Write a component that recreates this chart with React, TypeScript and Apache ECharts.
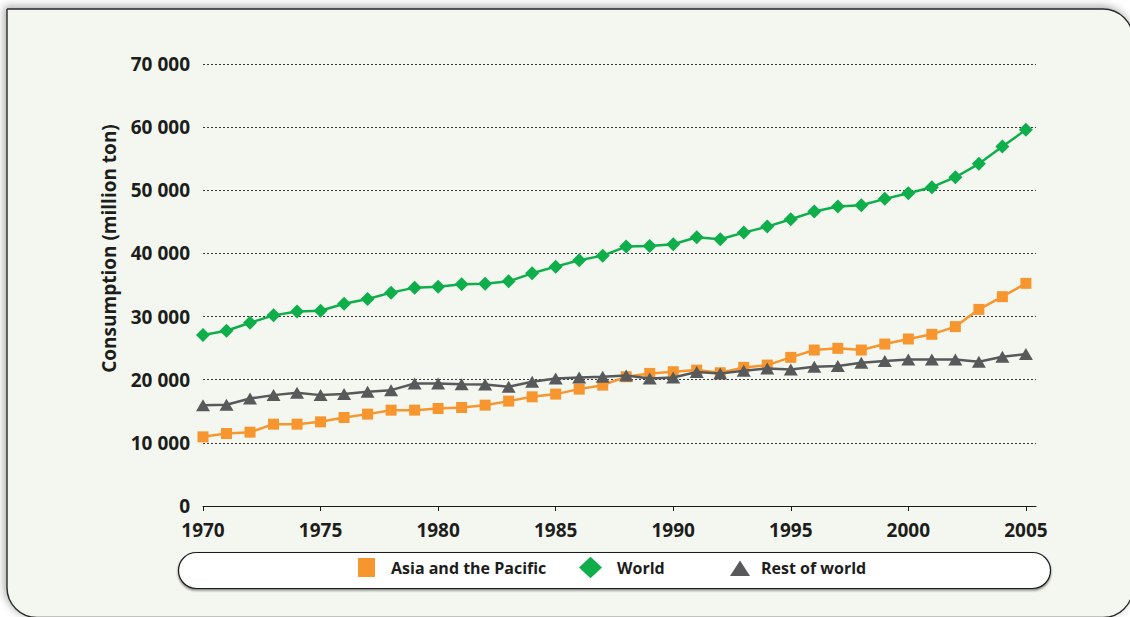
import React, { useEffect, useRef } from "react";
import * as echarts from "echarts";

const years = [
  1970, 1971, 1972, 1973, 1974, 1975, 1976, 1977, 1978, 1979,
  1980, 1981, 1982, 1983, 1984, 1985, 1986, 1987, 1988, 1989,
  1990, 1991, 1992, 1993, 1994, 1995, 1996, 1997, 1998, 1999,
  2000, 2001, 2002, 2003, 2004, 2005,
];
const asiaPacific = [
  10950, 11480, 11690, 12960, 12960, 13330, 14020, 14550, 15180, 15180,
  15440, 15600, 15970, 16610, 17290, 17720, 18510, 19140, 20470, 21000,
  21260, 21520, 21100, 21950, 22320, 23540, 24700, 24970, 24700, 25650,
  26450, 27190, 28410, 31140, 33150, 35260,
];
const world = [
  27070, 27760, 29030, 30190, 30820, 30930, 32040, 32780, 33790, 34580,
  34740, 35110, 35210, 35580, 36850, 37910, 38910, 39650, 41080, 41180,
  41450, 42560, 42240, 43300, 44250, 45410, 46630, 47420, 47630, 48640,
  49530, 50490, 52070, 54190, 56930, 59580,
];
const restOfWorld = [
  15970, 16030, 17030, 17560, 17930, 17560, 17720, 18090, 18350, 19410,
  19410, 19300, 19250, 18880, 19670, 20200, 20360, 20470, 20680, 20200,
  20360, 21210, 21000, 21420, 21790, 21630, 22050, 22160, 22690, 22950,
  23210, 23210, 23210, 22840, 23630, 24060,
];
const xTickYears = [1970, 1975, 1980, 1985, 1990, 1995, 2000, 2005];
const seriesNames = ["Asia and the Pacific", "World", "Rest of world"];
const yAxisTitle = "Consumption (million ton)";

const FONT = "'Open Sans', 'DejaVu Sans', sans-serif";
const TEXT = "#1d1d1b";

// tiny corner marks fix the icon's bounding box to 33x22
const CORNERS = "M0,0L0.01,0L0.01,0.01Z M33,22L32.99,22L32.99,21.99Z ";

export default function App() {
  const ref = useRef<HTMLDivElement>(null);

  useEffect(() => {
    if (!ref.current) return;
    const chart = echarts.init(ref.current, null, { renderer: "svg" });
    const pair = (arr: number[]) => years.map((y, i) => [y, arr[i]]);

    const legendBase = {
      top: 556.5,
      padding: 0,
      itemWidth: 33,
      itemHeight: 22,
      itemGap: 0,
      selectedMode: false,
      textStyle: {
        fontFamily: FONT,
        fontWeight: "bold",
        fontSize: 16,
        color: TEXT,
        padding: [0, 0, 2, 0],
      },
    };

    chart.setOption({
      animation: false,
      backgroundColor: "#ffffff",
      grid: { left: 203, right: 94, top: 64, bottom: 111, containLabel: false },
      graphic: [
        {
          type: "rect",
          z: -100,
          shape: { x: 7, y: 9, width: 1126, height: 608.5, r: [0, 30, 30, 30] },
          style: {
            fill: "#f3f7f0",
            stroke: "#2a2a2a",
            lineWidth: 1.4,
            shadowBlur: 8,
            shadowOffsetX: -2,
            shadowOffsetY: -2,
            shadowColor: "rgba(0,0,0,0.35)",
          },
        },
        {
          type: "rect",
          z: -50,
          shape: { x: 178.5, y: 552.5, width: 872, height: 36, r: 18 },
          style: {
            fill: "#ffffff",
            stroke: "#1a1a1a",
            lineWidth: 1.2,
            shadowBlur: 2,
            shadowOffsetY: 1.5,
            shadowColor: "rgba(0,0,0,0.5)",
          },
        },
        {
          type: "text",
          x: 108.5,
          y: 248.5,
          rotation: Math.PI / 2,
          style: {
            text: yAxisTitle,
            fontFamily: FONT,
            fontWeight: "bold",
            fontSize: 19,
            fill: TEXT,
            textAlign: "center",
            textVerticalAlign: "middle",
          },
        },
      ],
      legend: [
        {
          ...legendBase,
          left: 353,
          data: [{ name: seriesNames[0], icon: "path://" + CORNERS + "M5,1.5L22,1.5L22,20.5L5,20.5Z" }],
        },
        {
          ...legendBase,
          left: 579,
          data: [{ name: seriesNames[1], icon: "path://" + CORNERS + "M11.5,0.3L23,11L11.5,21.7L0,11Z" }],
        },
        {
          ...legendBase,
          left: 723,
          data: [{ name: seriesNames[2], icon: "path://" + CORNERS + "M17,4L27,19.5L7,19.5Z" }],
        },
      ],
      xAxis: {
        type: "value",
        min: 1970,
        max: 2005.43,
        splitLine: { show: false },
        axisLine: { show: true, lineStyle: { color: "#1a1a1a", width: 1 } },
        axisTick: {
          show: true,
          customValues: xTickYears,
          length: 5,
          lineStyle: { color: "#1a1a1a", width: 1 },
        },
        axisLabel: {
          customValues: xTickYears,
          fontFamily: FONT,
          fontWeight: "bold",
          fontSize: 19,
          color: TEXT,
          margin: 14,
          formatter: (v: number) => String(v),
        },
      },
      yAxis: {
        type: "value",
        min: 0,
        max: 70000,
        interval: 10000,
        axisLine: { show: false },
        axisTick: { show: false },
        splitLine: {
          show: true,
          lineStyle: { color: "#3a3a3a", width: 1, type: [2, 2] },
        },
        axisLabel: {
          fontFamily: FONT,
          fontWeight: "bold",
          fontSize: 19,
          color: TEXT,
          margin: 13,
          formatter: (v: number) =>
            v === 0 ? "0" : `${Math.floor(v / 1000)} ${String(v % 1000).padStart(3, "0")}`,
        },
      },
      series: [
        {
          name: seriesNames[0],
          type: "line",
          data: pair(asiaPacific),
          symbol: "rect",
          symbolSize: 11,
          color: "#f7962f",
          lineStyle: { width: 2.5, color: "#f7962f" },
          itemStyle: { color: "#f7962f" },
          z: 3,
        },
        {
          name: seriesNames[1],
          type: "line",
          data: pair(world),
          symbol: "diamond",
          symbolSize: 14,
          color: "#0eae4b",
          lineStyle: { width: 2.5, color: "#0eae4b" },
          itemStyle: { color: "#0eae4b" },
          z: 4,
        },
        {
          name: seriesNames[2],
          type: "line",
          data: pair(restOfWorld),
          symbol: "triangle",
          symbolSize: [14, 12],
          color: "#58595b",
          lineStyle: { width: 2.5, color: "#58595b" },
          itemStyle: { color: "#58595b" },
          z: 5,
        },
      ],
    });

    return () => chart.dispose();
  }, []);

  return (
    <div
      ref={ref}
      style={{ position: "absolute", left: 0, top: 0, width: 1130, height: 617 }}
    />
  );
}
